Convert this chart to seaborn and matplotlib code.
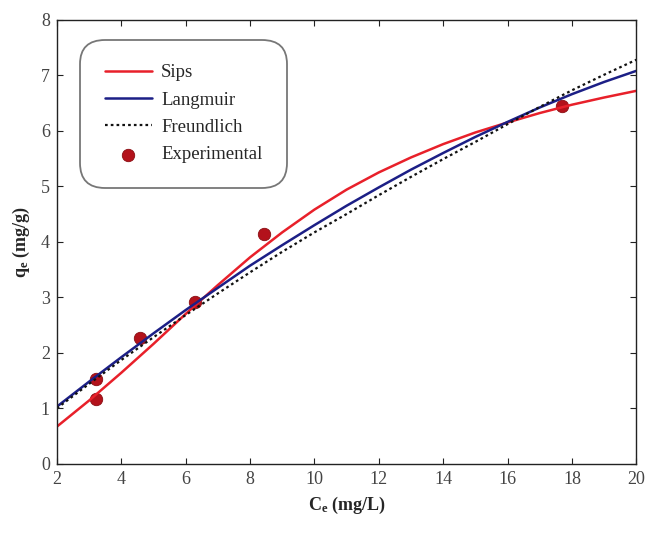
import numpy as np
import pandas as pd
import matplotlib
matplotlib.use("Agg")
import matplotlib.pyplot as plt
import seaborn as sns

# ---- data ----
ce_grid = [2, 3, 4, 5, 6, 7, 8, 9, 10, 11, 12, 13, 14, 15, 16, 17, 18, 19, 20]
sips = [0.67, 1.14, 1.64, 2.16, 2.70, 3.22, 3.72, 4.17, 4.58, 4.94, 5.25, 5.52, 5.76, 5.97, 6.15, 6.32, 6.47, 6.60, 6.72]
langmuir = [1.03, 1.48, 1.92, 2.35, 2.77, 3.17, 3.57, 3.94, 4.30, 4.65, 4.98, 5.30, 5.60, 5.89, 6.16, 6.42, 6.66, 6.88, 7.08]
freundlich = [1.00, 1.44, 1.87, 2.28, 2.68, 3.07, 3.45, 3.82, 4.17, 4.50, 4.84, 5.17, 5.49, 5.80, 6.12, 6.43, 6.73, 7.01, 7.28]
exp_ce = [3.22, 3.22, 4.58, 6.28, 8.45, 17.68]
exp_qe = [1.52, 1.17, 2.27, 2.92, 4.14, 6.45]

sns.set_theme(style="white")
plt.rcParams['font.family'] = ['Liberation Serif', 'DejaVu Serif']
plt.rcParams['mathtext.fontset'] = 'custom'
plt.rcParams['mathtext.rm'] = 'Liberation Serif'
plt.rcParams['mathtext.bf'] = 'Liberation Serif:bold'
plt.rcParams['mathtext.it'] = 'Liberation Serif:italic'

fig = plt.figure(figsize=(6.46, 5.35), dpi=100)
ax = fig.add_axes([0.088, 0.133, 0.897, 0.83])

curves = pd.DataFrame({"Ce": ce_grid * 3,
                       "qe": sips + langmuir + freundlich,
                       "model": ["Sips"] * len(ce_grid) + ["Langmuir"] * len(ce_grid) + ["Freundlich"] * len(ce_grid)})

sns.lineplot(data=curves[curves.model == "Sips"], x="Ce", y="qe", color="#e8202a", lw=1.8, ax=ax, label="Sips")
sns.lineplot(data=curves[curves.model == "Langmuir"], x="Ce", y="qe", color="#1c1f86", lw=1.8, ax=ax, label="Langmuir")
sns.lineplot(data=curves[curves.model == "Freundlich"], x="Ce", y="qe", color="#111111", lw=1.6, ls=(0, (1.2, 1.4)), ax=ax, label="Freundlich")
sns.scatterplot(x=exp_ce, y=exp_qe, color="#b3121b", s=80, edgecolor="#8a0d12", linewidth=0.6, ax=ax, label="Experimental", zorder=1)

ax.set_xlim(2, 20)
ax.set_ylim(0, 8)
ax.set_xticks(range(2, 21, 2))
ax.set_yticks(range(0, 9))
ax.tick_params(direction="in", length=4, width=0.8, top=True, right=True, bottom=True, left=True,
               labelsize=13, colors="#222222", labelcolor="#444444", pad=5)
for s in ax.spines.values():
    s.set_color("#222222")
    s.set_linewidth(1.0)

ax.set_xlabel(r"$\mathbf{C_e}$ (mg/L)", fontsize=13, fontweight="bold", labelpad=5)
ax.set_ylabel(r"$\mathbf{q_e}$ (mg/g)", fontsize=13, fontweight="bold", labelpad=6)

leg = ax.legend(loc="upper left", bbox_to_anchor=(0.044, 0.951), fontsize=13.5, frameon=True, fancybox=True,
                handlelength=2.5, handletextpad=0.5, labelspacing=0.55, borderpad=1.0, markerscale=1.0,
                borderaxespad=0.2)
fr = leg.get_frame()
fr.set_edgecolor("#555555")
fr.set_linewidth(1.3)
fr.set_boxstyle("round,pad=0.3,rounding_size=1.3")

fig.savefig("out.png", dpi=100)
